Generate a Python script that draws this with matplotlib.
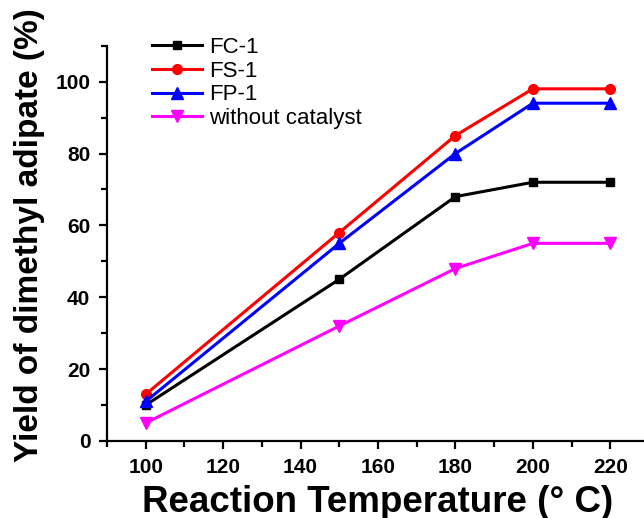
import matplotlib
matplotlib.use("Agg")
import matplotlib.pyplot as plt
from matplotlib.ticker import MultipleLocator

temps = [100, 150, 180, 200, 220]
fc1 = [10, 45, 68, 72, 72]
fs1 = [13, 58, 85, 98, 98]
fp1 = [11, 55, 80, 94, 94]
none_cat = [5, 32, 48, 55, 55]
labels = ["FC-1", "FS-1", "FP-1", "without catalyst"]

plt.rcParams['font.family'] = ['Liberation Sans', 'DejaVu Sans']

fig = plt.figure(figsize=(6.44, 5.18), dpi=100)
ax = fig.add_axes([107/644, 77/518, (649-107)/644, (441-45.7)/518])

ax.plot(temps, fc1, color='black', marker='s', ms=6, lw=2.2, label=labels[0])
ax.plot(temps, fs1, color='red', marker='o', ms=7, lw=2.2, label=labels[1])
ax.plot(temps, fp1, color='blue', marker='^', ms=8, lw=2.2, label=labels[2])
ax.plot(temps, none_cat, color='magenta', marker='v', ms=8, lw=2.2, label=labels[3])

ax.set_xlim(90, 230)
ax.set_ylim(0, 110)
ax.xaxis.set_major_locator(MultipleLocator(20))
ax.xaxis.set_minor_locator(MultipleLocator(10))
ax.yaxis.set_major_locator(MultipleLocator(20))
ax.yaxis.set_minor_locator(MultipleLocator(10))
for s in ['top', 'right']:
    ax.spines[s].set_visible(False)
for s in ['left', 'bottom']:
    ax.spines[s].set_linewidth(1.6)
ax.tick_params(which='major', direction='out', length=6, width=1.6, labelsize=15, pad=6)
ax.tick_params(which='minor', direction='out', length=4, width=1.6)
for t in ax.get_xticklabels() + ax.get_yticklabels():
    t.set_fontweight('bold')

ax.set_xlabel("Reaction Temperature (° C)", fontsize=26.5, fontweight='bold', labelpad=6)
ax.set_ylabel("Yield of dimethyl adipate (%)", fontsize=24, fontweight='bold')
ax.yaxis.set_label_coords(-0.114, 0.521)

leg = ax.legend(loc='upper left', bbox_to_anchor=(152/644, 1 - 37/518), bbox_transform=fig.transFigure,
                frameon=False, fontsize=16, handlelength=2.25, handletextpad=0.3,
                labelspacing=0.12, borderpad=0, borderaxespad=0)

fig.savefig("out.png", dpi=100)
